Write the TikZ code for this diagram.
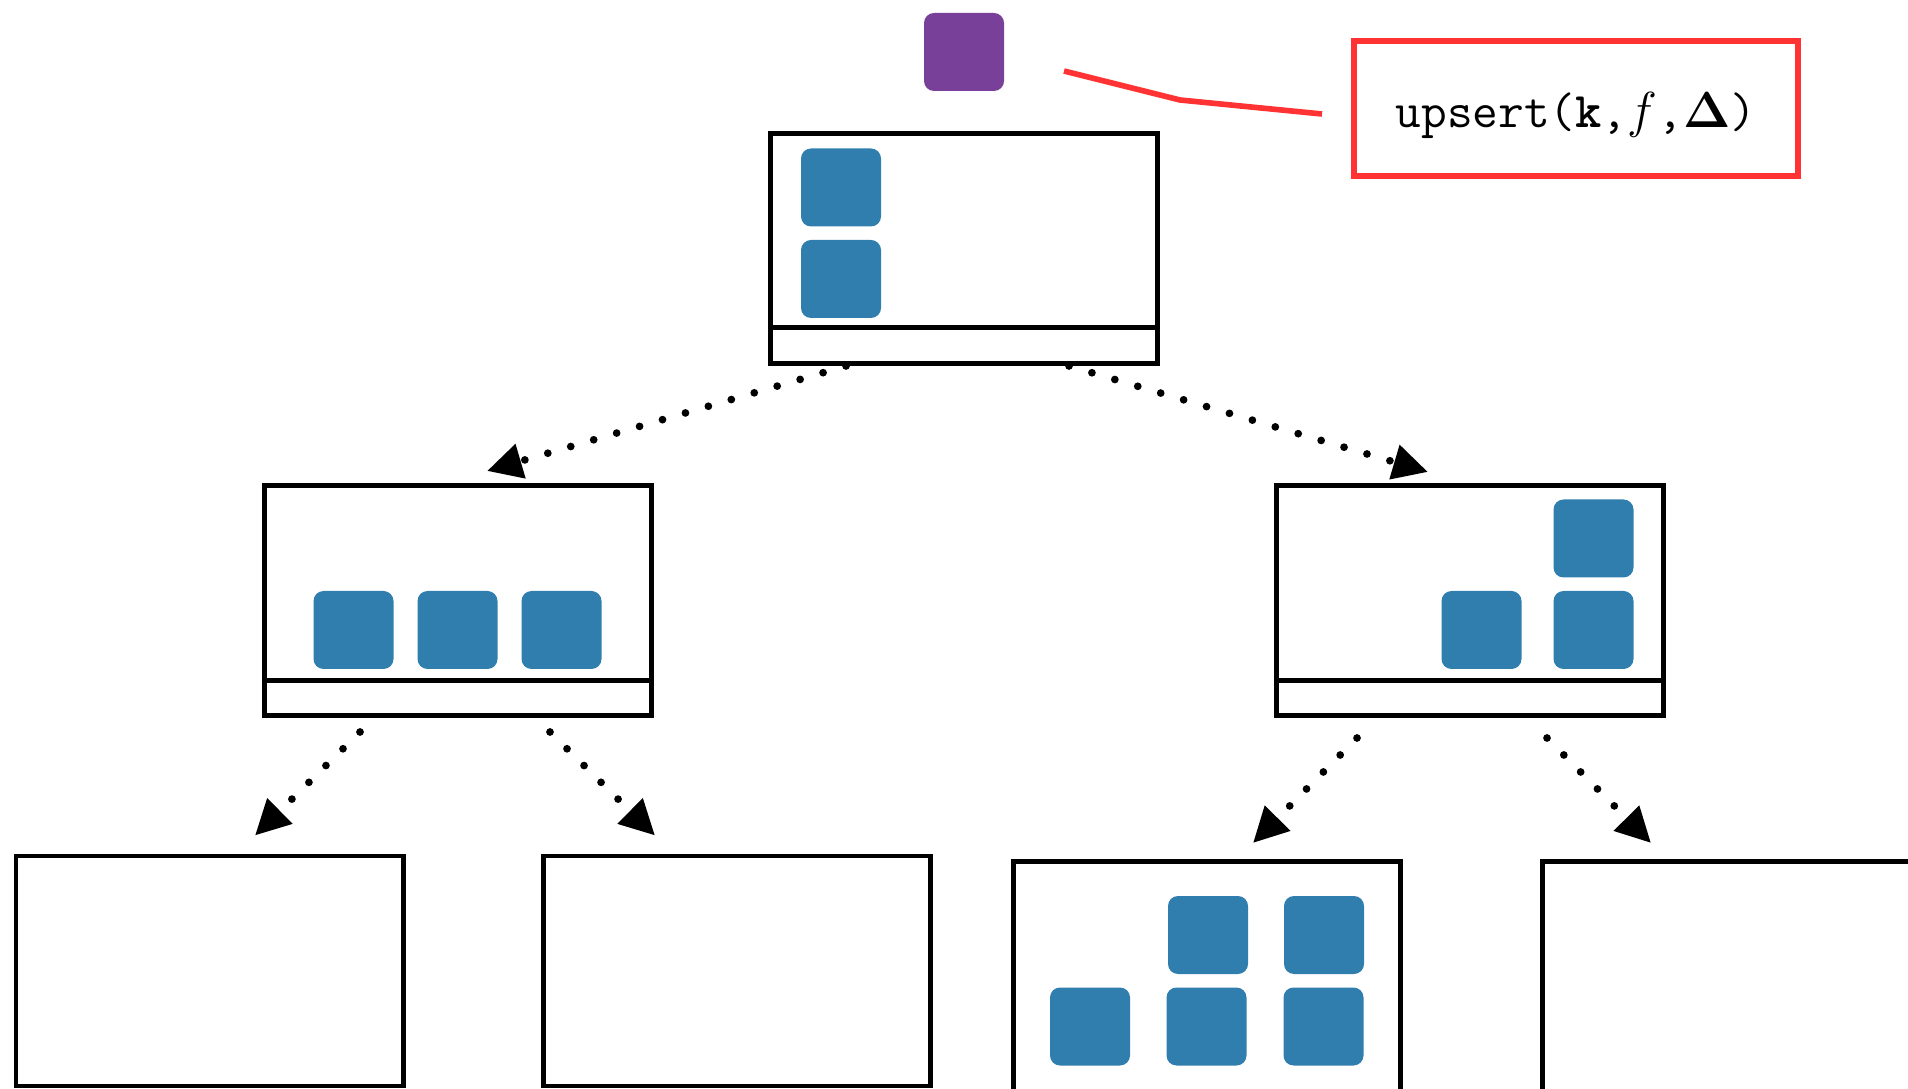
\documentclass[tikz,border=0pt]{standalone}
\usetikzlibrary{arrows.meta,calc}

\definecolor{entryblue}{RGB}{47,126,173}
\definecolor{msgpurple}{RGB}{120,64,153}
\definecolor{notered}{RGB}{255,51,51}

\begin{document}
\begin{tikzpicture}[
  bnode/.style = {draw, line width=1.42pt, minimum width=3.87cm, minimum height=2.30cm, inner sep=0pt},
  leaf/.style  = {bnode, minimum height=2.6cm},
  msg/.style   = {fill=entryblue, rounded corners=1mm, minimum width=0.8cm, minimum height=0.78cm, inner sep=0pt},
  link/.style  = {-{Triangle[length=3.5mm,width=3.4mm]}, line width=2.2pt, line cap=round, dash pattern=on 0pt off 6.8pt},
  buffer/.style = {line width=1.42pt}
]
\useasboundingbox (0,0) rectangle (19.08,-10.89);

% incoming message
\node [msg, fill=msgpurple] (upd) at (9.64,-0.52) {};

% root
\node [bnode] (root) at (9.64,-2.485) {};
\draw [buffer] ($(root.south west)+(0,0.38)$) -- ($(root.south east)+(0,0.38)$);
\node [msg] (r1) at (8.41,-1.875) {};
\node [msg] (r2) at (8.41,-2.79) {};

% internal nodes
\node [bnode] (lm) at (4.58,-6.005) {};
\draw [buffer] ($(lm.south west)+(0,0.375)$) -- ($(lm.south east)+(0,0.375)$);
\node [msg] (l1) at (3.535,-6.30) {};
\node [msg] (l2) at (4.575,-6.30) {};
\node [msg] (l3) at (5.615,-6.30) {};

\node [bnode] (rm) at (14.70,-6.005) {};
\draw [buffer] ($(rm.south west)+(0,0.375)$) -- ($(rm.south east)+(0,0.375)$);
\node [msg] (q1) at (15.935,-5.385) {};
\node [msg] (q2) at (14.815,-6.30) {};
\node [msg] (q3) at (15.935,-6.30) {};

% leaves
\node [bnode] (bl) at (2.095,-9.71) {};
\node [bnode] (b2) at (7.365,-9.71) {};
\node [leaf] (b3) at (12.065,-9.915) {};
\node [leaf] (b4) at (17.36,-9.915) {};
\node [msg] (s1) at (12.08,-9.35) {};
\node [msg] (s2) at (13.24,-9.35) {};
\node [msg] (s3) at (10.90,-10.265) {};
\node [msg] (s4) at (12.065,-10.265) {};
\node [msg] (s5) at (13.235,-10.265) {};

% flushes
\draw [link] ($(root.south)+(-1.18,0)$) -- ($(lm.north)+(0.29,0.12)$);
\draw [link] ($(root.south)+(1.05,0)$) -- ($(rm.north)+(-0.42,0.11)$);
\draw [link] ($(lm.south)+(-0.98,-0.14)$) -- ($(bl.north)+(0.455,0.18)$);
\draw [link] ($(lm.south)+(0.92,-0.14)$) -- ($(b2.north)+(-0.815,0.18)$);
\draw [link] ($(rm.south)+(-1.13,-0.2)$) -- ($(b3.north)+(0.465,0.16)$);
\draw [link] ($(rm.south)+(0.77,-0.2)$) -- ($(b4.north)+(-0.85,0.16)$);

% call label
\node [draw=notered, line width=1.6pt, minimum width=4.435cm, minimum height=1.345cm,
       text height=0.4cm, text depth=0.01cm,
       font=\fontsize{14.2}{17}\selectfont\ttfamily] (call) at (15.76,-1.085)
      {upsert(\textbf{k},$f$,$\mathbf{\Delta}$)};
\coordinate (lead1) at (10.64,-0.71);
\coordinate (lead2) at (11.80,-1.00);
\coordinate (lead3) at (13.22,-1.14);
\draw [notered, line width=1.6pt] (lead1) -- (lead2) -- (lead3);
\end{tikzpicture}
\end{document}
